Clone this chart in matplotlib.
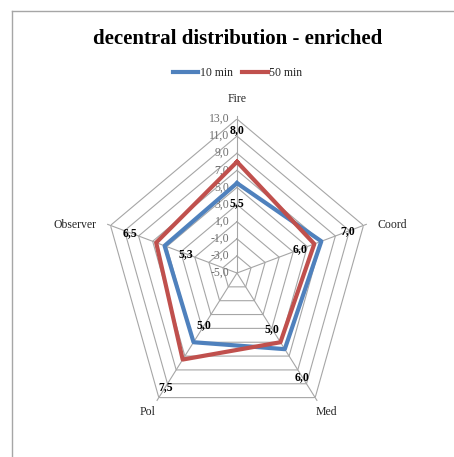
import numpy as np
import matplotlib
matplotlib.use("Agg")
import matplotlib.pyplot as plt
from matplotlib.lines import Line2D

categories = ["Fire", "Coord", "Med", "Pol", "Observer"]
min10 = [5.5, 7.0, 6.0, 5.0, 5.3]
min50 = [8.0, 6.0, 5.0, 7.5, 6.5]
ticks = [-5, -3, -1, 1, 3, 5, 7, 9, 11, 13]

# where the value labels sit along each spoke (radial units)
lab_r10 = [3.2, 10.7, 10.0, 2.5, 2.3]
lab_r50 = [11.7, 4.0, 3.1, 11.5, 10.2]

blue = "#4F81BD"
red = "#C0504D"
grid = "#A6A6A6"
serif = "Liberation Serif"

fig = plt.figure(figsize=(4.54, 4.57), dpi=100)

# chart frame (left and top edges only show)
fig.add_artist(Line2D([12 / 454, 12 / 454], [0, 1 - 11 / 457], color="#A6A6A6", lw=1.0))
fig.add_artist(Line2D([12 / 454, 1], [1 - 11 / 457, 1 - 11 / 457], color="#A6A6A6", lw=1.0))

ax = fig.add_axes([0.229, 0.0656, 0.586, 0.674], projection="polar")
ax.set_aspect("auto")
ax.set_theta_offset(np.pi / 2)
ax.set_theta_direction(-1)
ax.set_ylim(-5, 13)
ax.axis("off")

angles = np.linspace(0, 2 * np.pi, len(categories), endpoint=False)
closed = np.append(angles, angles[0])

# pentagon rings and spokes
for v in ticks[1:]:
    ax.plot(closed, [v] * len(closed), color=grid, lw=0.8, zorder=1)
for a in angles:
    ax.plot([a, a], [-5, 13.4], color=grid, lw=0.8, zorder=1, clip_on=False)

# scale labels along the first spoke
for v in ticks:
    ax.annotate(f"{v:.1f}".replace(".", ","), (0, v), xytext=(-5.5, 0),
                textcoords="offset points", ha="right", va="center",
                fontsize=8.5, color="#6E6E6E", family=serif)

ax.plot(closed, min10 + min10[:1], color=blue, lw=3, zorder=3, label="10 min")
ax.plot(closed, min50 + min50[:1], color=red, lw=3, zorder=4, label="50 min")

for a, v, r in zip(angles, min10, lab_r10):
    ax.text(a, r, f"{v:.1f}".replace(".", ","), ha="center", va="center",
            fontsize=8.5, fontweight="bold", family=serif, zorder=5)
for a, v, r in zip(angles, min50, lab_r50):
    ax.text(a, r, f"{v:.1f}".replace(".", ","), ha="center", va="center",
            fontsize=8.5, fontweight="bold", family=serif, zorder=5)

# category names outside the rings
cat_pos = [("center", "bottom", (0, 10)), ("left", "center", (10, 0)),
           ("center", "top", (8, -6)), ("center", "top", (-8, -6)),
           ("right", "center", (-10, 0))]
for a, name, (ha, va, off) in zip(angles, categories, cat_pos):
    ax.annotate(name, (a, 13), xytext=off, textcoords="offset points",
                ha=ha, va=va, fontsize=8.5, color="#262626", family=serif,
                annotation_clip=False)

fig.text(0.523, 0.915, "decentral distribution - enriched", ha="center",
         va="center", fontsize=15, fontweight="bold", family=serif)
leg = fig.legend(loc="center", bbox_to_anchor=(0.523, 0.84), ncol=2, frameon=False,
                 prop={"family": serif, "size": 8.5}, handlelength=2.2,
                 handletextpad=0.1, columnspacing=0.8)
for t in leg.get_texts():
    t.set_color("#262626")

fig.savefig("out.png", dpi=100)
